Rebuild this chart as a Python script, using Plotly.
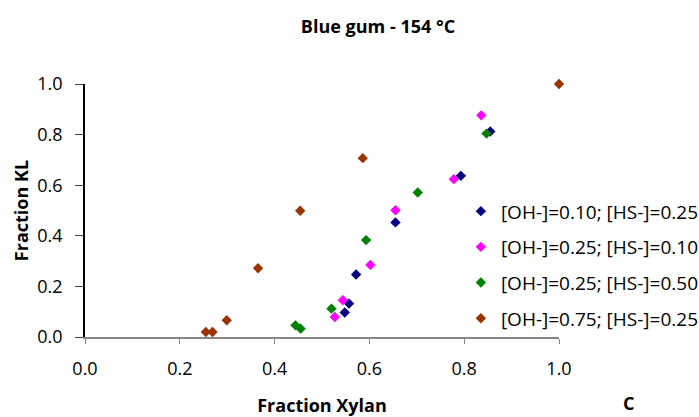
import plotly.graph_objects as go

names = ["[OH-]=0.10; [HS-]=0.25", "[OH-]=0.25; [HS-]=0.10",
         "[OH-]=0.25; [HS-]=0.50", "[OH-]=0.75; [HS-]=0.25"]
colors = ["#000080", "#FF00FF", "#008000", "#993300"]

x_navy = [0.548, 0.557, 0.572, 0.655, 0.793, 0.855]
y_navy = [0.097, 0.132, 0.247, 0.453, 0.637, 0.812]
x_pink = [0.527, 0.544, 0.602, 0.655, 0.778, 0.836]
y_pink = [0.079, 0.145, 0.285, 0.501, 0.624, 0.876]
x_green = [0.444, 0.455, 0.520, 0.593, 0.702, 0.847]
y_green = [0.046, 0.033, 0.112, 0.383, 0.571, 0.804]
x_brown = [0.255, 0.269, 0.299, 0.365, 0.454, 0.586, 1.0]
y_brown = [0.020, 0.020, 0.066, 0.272, 0.499, 0.707, 1.0]

xs = [x_navy, x_pink, x_green, x_brown]
ys = [y_navy, y_pink, y_green, y_brown]

fig = go.Figure()
for i in range(4):
    fig.add_trace(go.Scatter(x=xs[i], y=ys[i], mode="markers", name=names[i],
                             legendgroup=str(i), cliponaxis=False,
                             marker=dict(symbol="diamond", size=8, color=colors[i])))

font = "Open Sans"
fig.update_layout(
    width=699, height=417,
    margin=dict(l=85, r=140, t=84, b=80, autoexpand=False),
    paper_bgcolor="white", plot_bgcolor="white",
    font=dict(family=font, color="black"),
    title=dict(text="<b>Blue gum - 154 °C</b>", x=378/699, xanchor="center",
               y=1 - 27/417, yanchor="middle", font=dict(size=18)),
    showlegend=True,
    legend=dict(x=0.793, xanchor="left", y=0.572, yanchor="top",
                font=dict(size=19), tracegroupgap=8, itemwidth=30,
                bgcolor="rgba(0,0,0,0)"),
    xaxis=dict(range=[0, 1], tickvals=[0, 0.2, 0.4, 0.6, 0.8, 1.0],
               tickformat=".1f", showgrid=False, zeroline=False,
               showline=True, linecolor="#868686", linewidth=1.5,
               ticks="outside", ticklen=5, tickcolor="#868686",
               ticklabelstandoff=10, tickfont=dict(size=18),
               title=dict(text="<b>Fraction Xylan</b>", font=dict(size=18),
                          standoff=29)),
    yaxis=dict(range=[0, 1], tickvals=[0, 0.2, 0.4, 0.6, 0.8, 1.0],
               tickformat=".1f", showgrid=False, zeroline=False,
               showline=True, linecolor="black", linewidth=1.5,
               ticks="outside", ticklen=8, tickcolor="#404040",
               ticklabelstandoff=9, tickfont=dict(size=18),
               title=dict(text="<b>Fraction KL</b>", font=dict(size=18),
                          standoff=4)),
)
fig.add_annotation(text="<b>C</b>", x=(628 - 85) / 474, y=(337 - 417) / 252.6,
                   xref="paper", yref="paper", xanchor="center", yanchor="bottom",
                   showarrow=False, font=dict(size=18))
fig.write_html("out.html")
